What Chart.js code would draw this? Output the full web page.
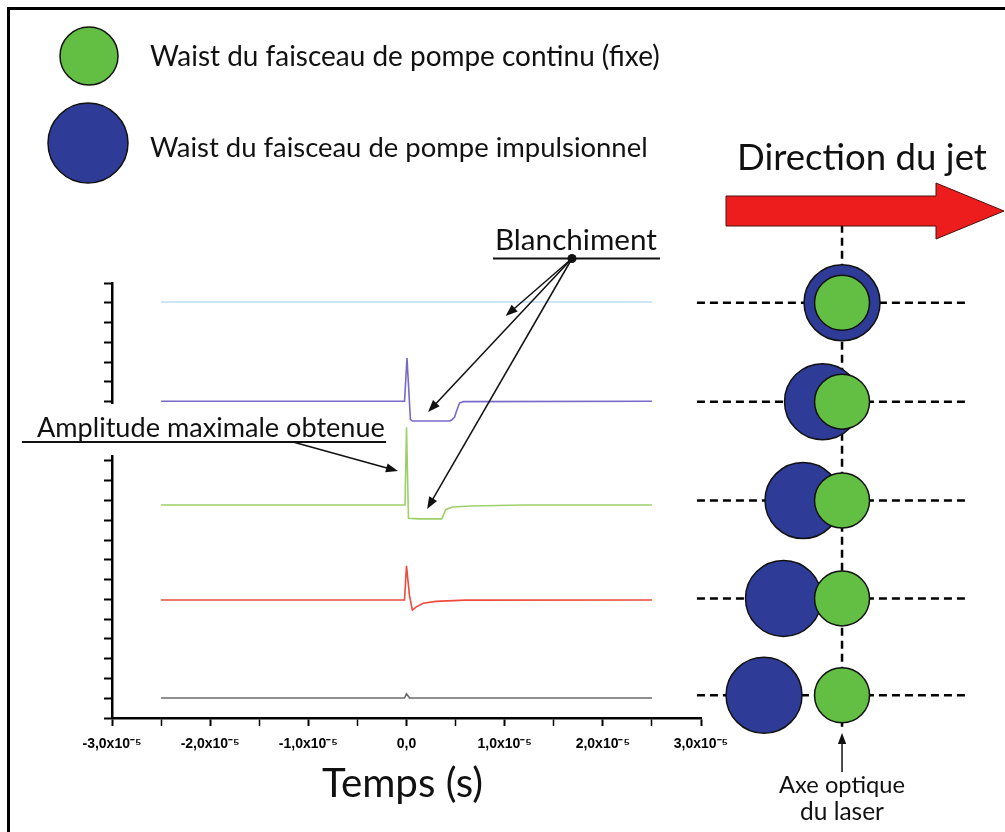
<!DOCTYPE html>
<html>
<head>
<meta charset="utf-8">
<script src="https://cdn.jsdelivr.net/npm/chart.js@4.4.1/dist/chart.umd.min.js"></script>
<style>
html, body { margin: 0; padding: 0; background: #fff; }
#wrap { width: 1005px; height: 832px; position: relative; }
.layer { position: absolute; left: 0; top: 0; width: 1005px; height: 832px; }
</style>
</head>
<body>
<div id="wrap">
  <div class="layer"><canvas id="fig"></canvas></div>
  <div class="layer"><canvas id="diagram"></canvas></div>
</div>
<script>
// signals, time in seconds, amplitude in arbitrary units (one y tick = 1)
const tLightBlue = [-2.5e-5, 2.5e-5];
const vLightBlue = [21.04, 21.04];

const tPurple = [-2.5e-5, -0.02e-5, 0.005e-5, 0.04e-5, 0.06e-5, 0.44e-5, 0.46e-5, 0.49e-5, 0.51e-5, 0.54e-5, 0.58e-5, 2.5e-5];
const vPurple = [16.02, 16.02, 18.2, 15.1, 15.02, 15.02, 15.07, 15.22, 15.53, 15.93, 16.0, 16.02];

const tGreen = [-2.5e-5, -0.015e-5, 0.0, 0.02e-5, 0.12e-5, 0.36e-5, 0.40e-5, 0.47e-5, 0.65e-5, 1.2e-5, 2.5e-5];
const vGreen = [10.77, 10.77, 14.7, 10.1, 10.07, 10.07, 10.55, 10.67, 10.72, 10.77, 10.77];

const tRed = [-2.5e-5, -0.02e-5, 0.0, 0.03e-5, 0.06e-5, 0.1e-5, 0.17e-5, 0.3e-5, 0.6e-5, 2.5e-5];
const vRed = [5.97, 5.97, 7.7, 6.2, 5.46, 5.62, 5.8, 5.9, 5.96, 5.97];

const tGrey = [-2.5e-5, -0.02e-5, 0.0, 0.03e-5, 2.5e-5];
const vGrey = [1.01, 1.01, 1.22, 1.02, 1.01];

// diagram on the right: one row per signal, pulsed pump shifted step by step
const rowLevel = [21.0, 16.0, 11.0, 6.05, 1.15];
const pumpOffset = [0, -1, -2, -3, -4];
const laserAxis = [0, 0, 0, 0, 0];

const legendTexts = ['Waist du faisceau de pompe continu (fixe)', 'Waist du faisceau de pompe impulsionnel'];

const GREEN = '#62bf43';
const BLUE = '#2e3c98';

function pairs(t, v) {
    return t.map((x, i) => ({ x: x, y: v[i] }));
}

function traceSet(t, v, color, width) {
    return {
        data: pairs(t, v),
        borderColor: color,
        borderWidth: width,
        pointRadius: 0,
        tension: 0
    };
}

function fitText(ctx, text, x, y, width, family, align) {
    ctx.font = '100px ' + family;
    const size = 100 * width / ctx.measureText(text).width;
    ctx.font = size + 'px ' + family;
    ctx.textAlign = align || 'left';
    ctx.textBaseline = 'alphabetic';
    ctx.fillText(text, x, y);
}

function arrow(ctx, x1, y1, x2, y2, head) {
    const a = Math.atan2(y2 - y1, x2 - x1);
    const c = Math.cos(a), s = Math.sin(a);
    ctx.beginPath();
    ctx.moveTo(x1, y1);
    ctx.lineTo(x2 - head * 0.8 * c, y2 - head * 0.8 * s);
    ctx.stroke();
    ctx.beginPath();
    ctx.moveTo(x2, y2);
    ctx.lineTo(x2 - head * c + head * 0.38 * s, y2 - head * s - head * 0.38 * c);
    ctx.lineTo(x2 - head * c - head * 0.38 * s, y2 - head * s + head * 0.38 * c);
    ctx.closePath();
    ctx.fill();
}

const decor = {
    id: 'decor',
    afterDraw(chart) {
        const ctx = chart.ctx;
        const x = chart.scales.x, y = chart.scales.y;
        ctx.save();

        // break in the y axis behind the label
        ctx.fillStyle = '#fff';
        ctx.fillRect(x.left - 20, y.getPixelForValue(15.88), 26, y.getPixelForValue(13.3) - y.getPixelForValue(15.88));

        ctx.strokeStyle = '#111';

        // legend
        ctx.lineWidth = 1.5;
        ctx.beginPath(); ctx.arc(89, 56, 29, 0, Math.PI * 2);
        ctx.fillStyle = GREEN; ctx.fill(); ctx.stroke();
        ctx.beginPath(); ctx.arc(88, 143, 40, 0, Math.PI * 2);
        ctx.fillStyle = BLUE; ctx.fill(); ctx.stroke();
        ctx.fillStyle = '#111';
        fitText(ctx, legendTexts[0], 150, 66, 510, 'Lato');
        fitText(ctx, legendTexts[1], 150, 157, 498, 'Lato');

        // Blanchiment
        fitText(ctx, 'Blanchiment', 495, 250, 162, 'Lato');
        ctx.lineWidth = 2;
        ctx.beginPath(); ctx.moveTo(493, 258.5); ctx.lineTo(660, 258.5); ctx.stroke();
        ctx.beginPath(); ctx.arc(572, 258.5, 4.5, 0, Math.PI * 2); ctx.fill();
        ctx.lineWidth = 1.5;
        [[1.01e-5, 20.33], [0.22e-5, 15.48], [0.21e-5, 10.57]].forEach(function(p) {
            arrow(ctx, 572, 258.5, x.getPixelForValue(p[0]), y.getPixelForValue(p[1]), 12);
        });

        // Amplitude maximale obtenue
        fitText(ctx, 'Amplitude maximale obtenue', 37, 437, 348, 'Lato');
        ctx.lineWidth = 2;
        ctx.beginPath(); ctx.moveTo(22, 442); ctx.lineTo(386, 442); ctx.stroke();
        ctx.lineWidth = 1.5;
        arrow(ctx, 293, 442, x.getPixelForValue(-0.087e-5), y.getPixelForValue(12.49), 12);

        // x axis title
        fitText(ctx, 'Temps (s)', 322, 797, 161, 'Lato');

        // frame
        ctx.fillStyle = '#000';
        ctx.fillRect(7, 7, 3, 832);
        ctx.fillRect(7, 7, 1005, 3);
        ctx.restore();
    }
};

const diagramDecor = {
    id: 'diagramDecor',
    afterDraw(chart) {
        const ctx = chart.ctx;
        const ax = chart.scales.x.getPixelForValue(0);
        ctx.save();
        ctx.fillStyle = '#111';
        fitText(ctx, 'Direction du jet', 737, 170, 250, 'Lato');
        ctx.beginPath();
        ctx.moveTo(726, 196); ctx.lineTo(936, 196); ctx.lineTo(936, 183);
        ctx.lineTo(1004, 211); ctx.lineTo(936, 239); ctx.lineTo(936, 226);
        ctx.lineTo(726, 226); ctx.closePath();
        ctx.fillStyle = '#ee1d1d'; ctx.fill();
        ctx.strokeStyle = '#4a1010'; ctx.lineWidth = 1; ctx.stroke();

        ctx.fillStyle = '#111'; ctx.strokeStyle = '#111'; ctx.lineWidth = 1.5;
        arrow(ctx, ax, 772, ax, 733, 11);
        fitText(ctx, 'Axe optique', ax, 793, 126, 'Lato', 'center');
        fitText(ctx, 'du laser', ax, 820, 84, 'Lato', 'center');
        ctx.restore();
    }
};

function xLabel(value) {
    const n = Math.round(value / 1e-5 * 10) / 10;
    if (Math.abs(n - Math.round(n)) > 1e-6) return '';
    if (n === 0) return '0,0';
    return (n < 0 ? '-' : '') + Math.abs(n) + ',0x10\u207B\u2075';
}

new Chart(document.getElementById('fig'), {
    type: 'line',
    data: {
        datasets: [
            traceSet(tLightBlue, vLightBlue, '#cde6f4', 2),
            traceSet(tPurple, vPurple, '#7a68c9', 1.6),
            traceSet(tGreen, vGreen, '#9dd06a', 1.6),
            traceSet(tRed, vRed, '#ef4a3c', 1.6),
            traceSet(tGrey, vGrey, '#6e6a6a', 1.6)
        ]
    },
    options: {
        responsive: true,
        maintainAspectRatio: false,
        devicePixelRatio: 1,
        animation: false,
        events: [],
        layout: { autoPadding: false, padding: { left: 104, right: 304, top: 283, bottom: 74 } },
        plugins: { legend: { display: false }, tooltip: { enabled: false } },
        scales: {
            x: {
                type: 'linear',
                position: 'bottom',
                min: -3e-5,
                max: 3e-5,
                afterFit: function(s) { s.height = 40; s.paddingLeft = 0; s.paddingRight = 0; },
                border: { color: '#000', width: 2.5 },
                grid: {
                    drawOnChartArea: false,
                    drawTicks: true,
                    tickLength: 8,
                    tickColor: '#000',
                    tickWidth: c => (xLabel(c.tick.value) ? 2 : 1.5)
                },
                ticks: {
                    stepSize: 0.5e-5,
                    autoSkip: false,
                    maxRotation: 0,
                    padding: 10,
                    color: '#000',
                    font: { family: 'Liberation Sans', weight: 'bold', size: 14 },
                    callback: xLabel
                }
            },
            y: {
                type: 'linear',
                position: 'left',
                min: 0,
                max: 22,
                afterFit: function(s) { s.width = 8; },
                border: { color: '#000', width: 2.5 },
                grid: {
                    drawOnChartArea: false,
                    drawTicks: true,
                    tickLength: 8,
                    tickColor: '#000',
                    tickWidth: 2
                },
                ticks: { stepSize: 1, display: false }
            }
        }
    },
    plugins: [decor]
});

// overlay chart for the beam diagram, same vertical scale as the signals
const guideSets = rowLevel.map(function(lv) {
    return {
        type: 'line',
        data: [{ x: -7.44, y: lv }, { x: 6.46, y: lv }],
        borderColor: '#000',
        borderWidth: 2.5,
        borderDash: [8, 5],
        pointRadius: 0,
        clip: false,
        order: 3
    };
});
guideSets.push({
    type: 'line',
    data: [{ x: 0, y: 24.94 }, { x: 0, y: -0.55 }],
    borderColor: '#000',
    borderWidth: 2.5,
    borderDash: [8, 5],
    pointRadius: 0,
    clip: false,
    order: 3
});

new Chart(document.getElementById('diagram'), {
    type: 'scatter',
    data: {
        datasets: guideSets.concat([
            {
                type: 'bubble',
                data: rowLevel.map((lv, i) => ({ x: laserAxis[i], y: lv })),
                radius: 27.5,
                backgroundColor: GREEN,
                borderColor: '#111',
                borderWidth: 1.5,
                clip: false,
                order: 1
            },
            {
                type: 'bubble',
                data: rowLevel.map((lv, i) => ({ x: pumpOffset[i], y: lv })),
                radius: 38,
                backgroundColor: BLUE,
                borderColor: '#111',
                borderWidth: 1.5,
                clip: false,
                order: 2
            }
        ])
    },
    options: {
        responsive: true,
        maintainAspectRatio: false,
        devicePixelRatio: 1,
        animation: false,
        events: [],
        layout: { autoPadding: false, padding: { left: 686, right: 4, top: 283, bottom: 114 } },
        plugins: { legend: { display: false }, tooltip: { enabled: false } },
        scales: {
            x: { type: 'linear', position: 'bottom', display: false, min: -8, max: 8.15 },
            y: { type: 'linear', position: 'left', display: false, min: 0, max: 22 }
        }
    },
    plugins: [diagramDecor]
});
</script>
</body>
</html>
